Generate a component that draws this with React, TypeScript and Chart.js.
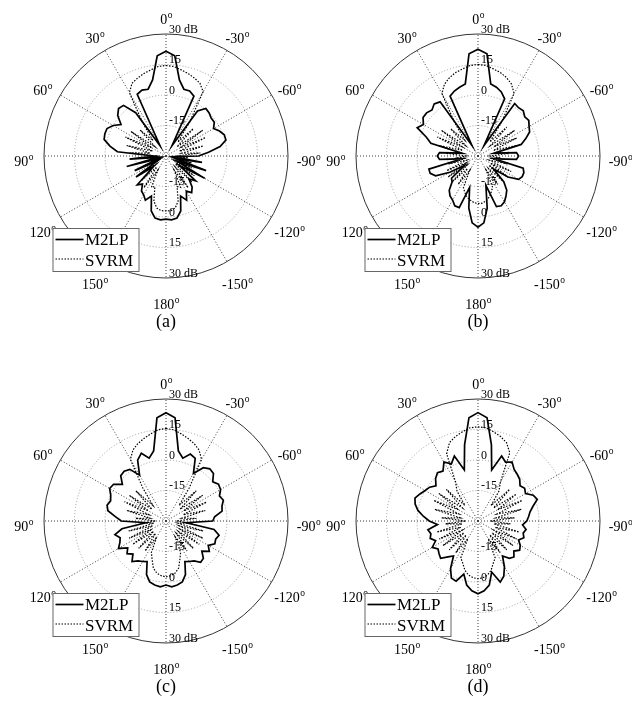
import React, { useEffect, useRef } from 'react';
import { Chart, registerables } from 'chart.js';

Chart.register(...registerables);

const FONT = '"Liberation Serif", "Times New Roman", "DejaVu Serif", serif';

// angular categories, clockwise from the top (right side = negative angles)
const ANGLES = [
  0, -5, -10, -15, -20, -25, -30, -35, -40, -45, -50, -55, -60, -65, -70, -75, -80, -85,
  -90, -95, -100, -105, -110, -115, -120, -125, -130, -135, -140, -145, -150, -155, -160, -165, -170, -175,
  180, 175, 170, 165, 160, 155, 150, 145, 140, 135, 130, 125, 120, 115, 110, 105, 100, 95,
  90, 85, 80, 75, 70, 65, 60, 55, 50, 45, 40, 35, 30, 25, 20, 15, 10, 5,
];

const SPOKE_ANGLES = [0, -30, -60, -90, -120, -150, 180, 150, 120, 90, 60, 30];
const RING_VALUES = [-15, 0, 15, 30];
const RING_LABELS = ['-15', '0', '15', '30 dB'];
const SERIES_NAMES = ['M2LP', 'SVRM'];
const PANEL_LABELS = ['(a)', '(b)', '(c)', '(d)'];

// gains in dB, same order as ANGLES
const A_M2LP = [
  21.5,
  19.5, 8, 4, 4, 2.5, -24, -3, 0.5, 0, -1, -1, -3, -1, 0.5, 0.5, -3, -9, -14, -26, -12, -25, -9, -24, -8, -22,
  -11, -14, -10, -8, -10, -6, -9, -2, 1, 1.5,
  1,
  1.5, 1, -2, -9, -6, -8, -9, -12, -10, -22, -12, -25, -13, -26, -10, -26, -12, -24, -6, -2, 1.5, 2, 2, 0, -3,
  1, 3, 2.5, -4, -24, 3.5, 4.5, 4, 8, 19.5,
];
const A_SVRM = [
  14.5,
  14.2, 13, 12, 10.8, 9.5, 6.5, -10, -21, -11, -23, -8, -22, -8.5, -23, -11, -22, -13, -25, -19, -26, -17, -25,
  -16, -25, -13, -24, -12, -23, -11, -22, -13, -14, -7, -4, -3,
  -3,
  -3, -4, -7, -14, -13, -22, -11, -23, -13, -24, -14, -25, -17, -26, -18, -26, -20, -25, -12, -22, -10, -23, -8,
  -22, -9, -23, -12, -20, -10, 6, 9.5, 10.8, 12, 13, 14.2,
];
const B_M2LP = [
  22.5,
  20.5, 6, 5, 3.5, 1, -24, 1.5, 1, 1.5, 0, 0.5, -1, -2, -5, -8, -22, -11, -10, -11, -22, -7, -6, -6, -7, -12,
  -20, -12, -8, -6, -4, -3, -3.5, -15, -4, 3,
  5,
  3, -4, -14, -3, -3, -5, -6, -8, -12, -13, -22, -14, -7, -5, -5, -22, -11, -10, -11, -22, -6, -3, 3, 1, 3, 3,
  2, 3.5, 2.5, -24, 2.5, 4, 5, 6, 20.5,
];
const B_SVRM = [
  15,
  14.7, 13.5, 12.5, 11, 9, 5.5, -10, -21, -10, -22, -8, -21, -9, -22, -10, -22, -15, -24, -19, -24, -15, -24,
  -12, -23, -12, -23, -12, -22, -13, -22, -13, -11, -9, -7.5, -6.7,
  -6.6,
  -7, -8, -9, -11, -13, -22, -13, -22, -12, -23, -12, -23, -13, -24, -15, -24, -20, -24, -14, -22, -10, -22, -8,
  -21, -8, -22, -11, -20, -10, 5.5, 9, 11, 12.5, 13.5, 14.7,
];
const C_M2LP = [
  23.2,
  21, 5, 2, 5, 4, -3, 2, 3.5, 3, 0, 1.5, 1, -1, 0, -1.5, -2, -6, -7, -20, -6, -3, -4, -3.5, -6, -4, -7, -4,
  -3.5, -6, -7, -8, -2, 1, 2, 2.5,
  1.5,
  2.5, 2, 1, -2, -8, -7, -6, -4, -7, -5, -7, -3, -5, -6, -4, -8, -20, -8, -5, -1, 0, -1, 0, 2, 1.5, -2, 1.5, 2,
  1, -4, 3, 5.5, 2, 5, 21,
];
const C_SVRM = [
  15.5,
  15, 13.5, 12, 10.5, 8.5, 5, -10, -20, -9, -21, -8, -20, -8, -21, -10, -22, -15, -25, -17, -24, -11, -23, -10,
  -22, -10, -22, -11, -22, -12, -21, -13, -10, -6, -4, -3,
  -2.5,
  -3, -4, -6, -10, -13, -21, -12, -22, -11, -22, -10, -22, -10, -23, -11, -24, -18, -25, -15, -22, -10, -21,
  -7.5, -20, -8, -21, -9, -20, -10, 5, 8.5, 10.5, 12, 13.5, 15,
];
const D_M2LP = [
  23.3,
  21, 8, -4, 4, 2, 3.5, 1, 0, -1, -3, -2, -3, 0, 1, -2, -4, -5, -6, -8, -6, -7, -6, -8, -6, -5, -7, -5, -6, -9,
  -4, 0, 2, -4, 2, 4.5,
  5.8,
  4.5, 2, -3, 1.5, 1, -3, -9, -7, -4, -5, -6, -4, -7, -5, -6, -5, -10, -6, -3, 0, 2, 3, 1.5, 0, -1, -3, -0.5,
  1, 0, 3.5, 1, 4, -4, 8, 21,
];
const D_SVRM = [
  16.3,
  16, 14.5, 13, 11, 7, -8, -12, -20, -8, -20, -7, -19, -6, -20, -8, -21, -12, -24, -14, -22, -9, -21, -9, -21,
  -9, -21, -10, -21, -11, -20, -10, -8, -5, -3, -2,
  -1.6,
  -2, -3, -5, -8, -10, -20, -11, -21, -10, -21, -9, -21, -9, -21, -9, -22, -14, -24, -12, -21, -8, -20, -6, -19,
  -6.5, -20, -8, -20, -12, -8, 6.5, 11, 13, 14.5, 16,
];

const PANELS = [
  { label: PANEL_LABELS[0], m2lp: A_M2LP, svrm: A_SVRM, cx: 166, cy: 156 },
  { label: PANEL_LABELS[1], m2lp: B_M2LP, svrm: B_SVRM, cx: 478, cy: 156 },
  { label: PANEL_LABELS[2], m2lp: C_M2LP, svrm: C_SVRM, cx: 166, cy: 521 },
  { label: PANEL_LABELS[3], m2lp: D_M2LP, svrm: D_SVRM, cx: 478, cy: 521 },
];

const W = 632;
const H = 716;
const RADIUS = 122;

function decorPlugin(caption: string) {
  return {
    id: 'polarDecor',
    beforeDatasetsDraw(chart: any) {
      const s = chart.scales.r;
      const ctx = chart.ctx;
      const cx = s.xCenter;
      const cy = s.yCenter;
      const R = s.drawingArea;
      ctx.save();
      ctx.lineWidth = 1;
      ctx.setLineDash([1, 2]);
      ctx.strokeStyle = '#9c9c9c';
      RING_VALUES.forEach((v) => {
        if (v >= 30) return;
        const d = s.getDistanceFromCenterForValue(v);
        ctx.beginPath();
        ctx.arc(cx, cy, d, 0, Math.PI * 2);
        ctx.stroke();
      });
      ctx.strokeStyle = '#3a3a3a';
      SPOKE_ANGLES.forEach((a) => {
        const i = ANGLES.indexOf(a);
        const p = s.getPointPosition(i, R);
        ctx.beginPath();
        ctx.moveTo(cx, cy);
        ctx.lineTo(p.x, p.y);
        ctx.stroke();
      });
      ctx.setLineDash([]);
      ctx.strokeStyle = '#333';
      ctx.beginPath();
      ctx.arc(cx, cy, R, 0, Math.PI * 2);
      ctx.stroke();
      ctx.restore();
    },
    afterDraw(chart: any) {
      const s = chart.scales.r;
      const ctx = chart.ctx;
      const cx = s.xCenter;
      const cy = s.yCenter;
      const R = s.drawingArea;
      ctx.save();
      ctx.fillStyle = '#000';
      ctx.textBaseline = 'alphabetic';
      // angle labels with superscript o
      SPOKE_ANGLES.forEach((a) => {
        const i = ANGLES.indexOf(a);
        const p = s.getPointPosition(i, R + 20.5);
        const txt = String(a);
        ctx.font = `14px ${FONT}`;
        const w1 = ctx.measureText(txt).width;
        ctx.font = `9.5px ${FONT}`;
        const w2 = ctx.measureText('o').width;
        const x0 = p.x - (w1 + w2) / 2;
        const base = p.y + 10;
        ctx.font = `14px ${FONT}`;
        ctx.textAlign = 'left';
        ctx.fillText(txt, x0, base);
        ctx.font = `9.5px ${FONT}`;
        ctx.fillText('o', x0 + w1 + 0.5, base - 6);
      });
      // radial tick labels along the vertical spoke, top and bottom
      ctx.font = `12px ${FONT}`;
      ctx.textAlign = 'left';
      RING_VALUES.forEach((v, k) => {
        const d = s.getDistanceFromCenterForValue(v);
        ctx.fillText(RING_LABELS[k], cx + 3, cy - d - 1.2);
        ctx.fillText(RING_LABELS[k], cx + 3, cy + d - 1.2);
      });
      // legend box
      const bx = cx - 113.5;
      const by = cy + 72;
      ctx.fillStyle = '#fff';
      ctx.fillRect(bx, by, 86, 43);
      ctx.strokeStyle = '#666';
      ctx.lineWidth = 1;
      ctx.strokeRect(bx + 0.5, by + 0.5, 86, 43);
      ctx.strokeStyle = '#000';
      ctx.lineWidth = 1.7;
      ctx.beginPath();
      ctx.moveTo(bx + 3, by + 11.5);
      ctx.lineTo(bx + 31, by + 11.5);
      ctx.stroke();
      ctx.lineWidth = 1.2;
      ctx.setLineDash([1.5, 1.5]);
      ctx.beginPath();
      ctx.moveTo(bx + 3, by + 31);
      ctx.lineTo(bx + 31, by + 31);
      ctx.stroke();
      ctx.setLineDash([]);
      ctx.fillStyle = '#000';
      ctx.font = `17px ${FONT}`;
      ctx.fillText(SERIES_NAMES[0], bx + 32.5, by + 17);
      ctx.fillText(SERIES_NAMES[1], bx + 32.5, by + 37.5);
      // caption
      ctx.font = `18px ${FONT}`;
      ctx.textAlign = 'center';
      ctx.textBaseline = 'middle';
      ctx.fillText(caption, cx, cy + 166);
      ctx.restore();
    },
  };
}

function PolarPanel({ panel }: { panel: (typeof PANELS)[number] }) {
  const ref = useRef<HTMLCanvasElement | null>(null);
  useEffect(() => {
    if (!ref.current) return;
    const left = panel.cx - RADIUS;
    const top = panel.cy - RADIUS;
    const chart = new Chart(ref.current, {
      type: 'radar',
      data: {
        labels: ANGLES.map((a) => String(a)),
        datasets: [
          {
            label: SERIES_NAMES[0],
            data: panel.m2lp,
            borderColor: '#000',
            backgroundColor: 'rgba(0,0,0,0)',
            borderWidth: 1.7,
            pointRadius: 0,
            fill: false,
            tension: 0,
          },
          {
            label: SERIES_NAMES[1],
            data: panel.svrm,
            borderColor: '#000',
            backgroundColor: 'rgba(0,0,0,0)',
            borderWidth: 1.2,
            borderDash: [1.5, 1.5],
            pointRadius: 0,
            fill: false,
            tension: 0,
          },
        ],
      },
      options: {
        responsive: false,
        maintainAspectRatio: false,
        animation: false,
        layout: {
          padding: {
            left,
            top,
            right: W - left - 2 * RADIUS,
            bottom: H - top - 2 * RADIUS,
          },
        },
        plugins: { legend: { display: false }, tooltip: { enabled: false } },
        scales: {
          r: {
            min: -30,
            max: 30,
            ticks: { display: false, stepSize: 15 },
            grid: { display: false },
            angleLines: { display: false },
            pointLabels: { display: false },
          },
        },
      },
      plugins: [decorPlugin(panel.label)],
    } as any);
    return () => chart.destroy();
  }, [panel]);
  return (
    <canvas
      ref={ref}
      width={W}
      height={H}
      style={{ position: 'absolute', left: 0, top: 0, width: W, height: H, pointerEvents: 'none' }}
    />
  );
}

export default function App() {
  return (
    <div style={{ position: 'absolute', left: 0, top: 0, width: W, height: H, background: '#fff' }}>
      {PANELS.map((p) => (
        <PolarPanel key={p.label} panel={p} />
      ))}
    </div>
  );
}
